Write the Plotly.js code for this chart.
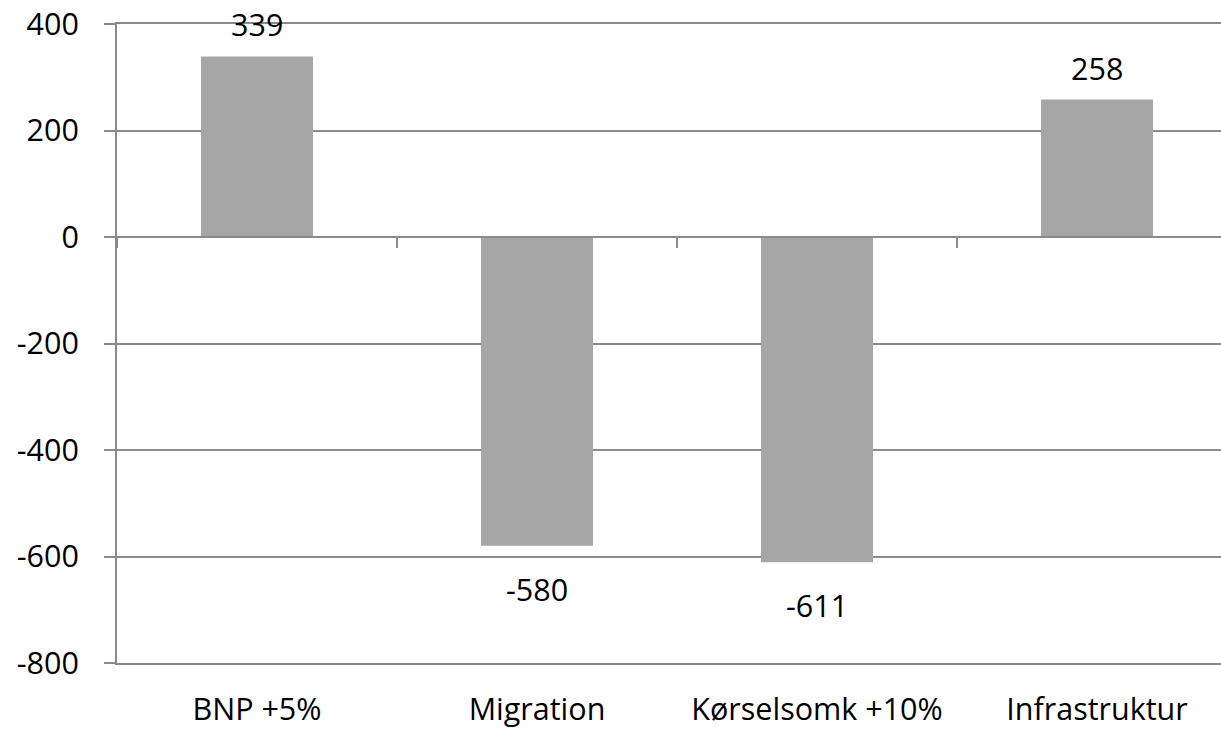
<!DOCTYPE html>
<html>
<head>
<meta charset="utf-8">
<script src="https://cdn.plot.ly/plotly-3.0.1.min.js"></script>
<style>html,body{margin:0;padding:0;background:#fff;}#chart{width:1221px;height:731px;}</style>
</head>
<body>
<div id="chart"></div>
<script>
const categories = ["BNP +5%", "Migration", "Kørselsomk +10%", "Infrastruktur"];
const values = [339, -580, -611, 258];
const yTicks = [-800, -600, -400, -200, 0, 200, 400];

const FONT = "Open Sans";
const GRID = "#8a8a8a";
const FS = 30.5;

const traces = [
  {
    type: "bar",
    x: categories,
    y: values,
    width: 0.4,
    marker: { color: "#a6a6a6", line: { width: 0 } },
    hoverinfo: "skip",
    showlegend: false
  },
  {
    type: "scatter",
    mode: "markers",
    x: categories,
    y: values,
    xaxis: "x2",
    yaxis: "y",
    marker: { opacity: 0 },
    hoverinfo: "skip",
    showlegend: false
  }
];

const xRange = [-0.5, -0.5 + 1104 / 280];

const annotations = values.map((v, i) => ({
  x: categories[i],
  y: v,
  xref: "x",
  yref: "y",
  text: String(v),
  showarrow: false,
  xanchor: "center",
  yanchor: "middle",
  yshift: v >= 0 ? 32 : -43,
  font: { family: FONT, size: FS, color: "#000" }
}));

const layout = {
  width: 1221,
  height: 731,
  margin: { l: 117, r: 0, t: 24, b: 68, pad: 0 },
  paper_bgcolor: "#fff",
  plot_bgcolor: "#fff",
  font: { family: FONT, size: FS, color: "#000" },
  showlegend: false,
  xaxis: {
    type: "category",
    categoryarray: categories,
    range: xRange,
    showgrid: false,
    zeroline: false,
    showline: true,
    mirror: true,
    linecolor: GRID,
    linewidth: 2,
    ticks: "",
    ticklabelstandoff: 18,
    tickfont: { family: FONT, size: FS, color: "#000" },
    fixedrange: true
  },
  xaxis2: {
    type: "category",
    categoryarray: categories,
    range: xRange,
    overlaying: "x",
    anchor: "free",
    position: 800 / 1200,
    showgrid: false,
    zeroline: false,
    showline: true,
    linecolor: GRID,
    linewidth: 2,
    ticks: "outside",
    tickson: "boundaries",
    ticklen: 10,
    tickwidth: 2,
    tickcolor: GRID,
    showticklabels: false,
    fixedrange: true
  },
  yaxis: {
    range: [-800, 400],
    tickvals: yTicks,
    ticktext: yTicks.map(String),
    showgrid: true,
    gridcolor: GRID,
    gridwidth: 2,
    zeroline: false,
    showline: true,
    linecolor: GRID,
    linewidth: 2,
    ticks: "outside",
    ticklen: 11,
    tickwidth: 2,
    tickcolor: GRID,
    ticklabelstandoff: 19,
    tickfont: { family: FONT, size: FS, color: "#000" },
    fixedrange: true
  },
  annotations: annotations
};

Plotly.newPlot("chart", traces, layout, { displayModeBar: false, staticPlot: true });
</script>
</body>
</html>
